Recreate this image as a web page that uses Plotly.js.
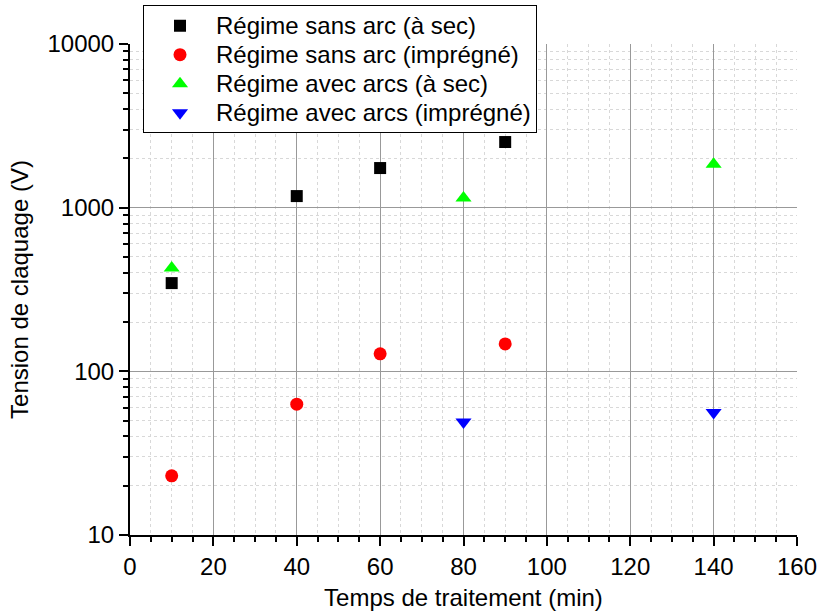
<!DOCTYPE html>
<html>
<head>
<meta charset="utf-8">
<script src="https://cdn.plot.ly/plotly-3.0.1.min.js"></script>
<style>
html,body{margin:0;padding:0;background:#fff;}
#chart{width:822px;height:614px;}
.legendtext{font-size:24px !important;}
</style>
</head>
<body>
<div id="chart"></div>
<script>
// Data
const seriesNames = ["Régime sans arc (à sec)", "Régime sans arc (imprégné)", "Régime avec arcs (à sec)", "Régime avec arcs (imprégné)"];
const sansArcSecX = [10, 40, 60, 90];
const sansArcSecY = [346, 1177, 1746, 2518];
const sansArcImpX = [10, 40, 60, 90];
const sansArcImpY = [23, 63, 128, 147];
const avecArcsSecX = [10, 80, 140];
const avecArcsSecY = [428, 1145, 1845];
const avecArcsImpX = [80, 140];
const avecArcsImpY = [49, 56];
const yTickVals = [10, 100, 1000, 10000];
const yTickText = ["10", "100", "1000", "10000"];

const minorY = [];
for (let d = 10; d < 10000; d *= 10) for (let k = 2; k <= 9; k++) minorY.push(k * d);

const font = {family: "Liberation Sans, Arial, sans-serif", color: "#000"};
const traces = [
  {x: sansArcSecX, y: sansArcSecY, name: seriesNames[0], mode: "markers", type: "scatter",
   marker: {symbol: "square", size: 12, color: "#000000"}},
  {x: sansArcImpX, y: sansArcImpY, name: seriesNames[1], mode: "markers", type: "scatter",
   marker: {symbol: "circle", size: 13, color: "#ff0000"}},
  {x: avecArcsSecX, y: avecArcsSecY, name: seriesNames[2], mode: "markers", type: "scatter",
   marker: {symbol: "triangle-up", size: 14, color: "#00ff00"}},
  {x: avecArcsImpX, y: avecArcsImpY, name: seriesNames[3], mode: "markers", type: "scatter",
   marker: {symbol: "triangle-down", size: 14, color: "#0000ff"}}
];
const layout = {
  width: 822, height: 614,
  margin: {l: 130, r: 25, t: 44, b: 79, autoexpand: false},
  paper_bgcolor: "#fff", plot_bgcolor: "#fff",
  font: Object.assign({size: 24}, font),
  showlegend: true,
  legend: {x: 0.0195, y: 1.079, xanchor: "left", yanchor: "top",
    bordercolor: "#000", borderwidth: 1, bgcolor: "#fff",
    font: Object.assign({size: 20}, font), itemwidth: 62},
  xaxis: {
    range: [0, 160], dtick: 20, tick0: 0,
    showline: true, linecolor: "#000", linewidth: 2, mirror: false,
    ticks: "outside", ticklen: 9, tickwidth: 2, tickcolor: "#000",
    showgrid: true, gridcolor: "#999", gridwidth: 1, zeroline: false,
    tickfont: Object.assign({size: 24}, font),
    title: {text: "Temps de traitement (min)", font: Object.assign({size: 24}, font), standoff: 10},
    minor: {dtick: 5, ticks: "outside", ticklen: 5, tickwidth: 2, tickcolor: "#000",
      showgrid: true, gridcolor: "#d8d8d8", griddash: "dot", gridwidth: 1}
  },
  yaxis: {
    type: "log", range: [1, 4],
    tickmode: "array", tickvals: yTickVals, ticktext: yTickText,
    showline: true, linecolor: "#000", linewidth: 2, mirror: false,
    ticks: "outside", ticklen: 9, tickwidth: 2, tickcolor: "#000",
    showgrid: true, gridcolor: "#999", gridwidth: 1, zeroline: false,
    tickfont: Object.assign({size: 24}, font),
    title: {text: "Tension de claquage (V)", font: Object.assign({size: 24}, font), standoff: 12},
    minor: {tickmode: "array", tickvals: minorY, ticks: "outside", ticklen: 5, tickwidth: 2, tickcolor: "#000",
      showgrid: true, gridcolor: "#d8d8d8", griddash: "dot", gridwidth: 1}
  }
};
Plotly.newPlot("chart", traces, layout, {displayModeBar: false, staticPlot: true});
</script>
</body>
</html>
